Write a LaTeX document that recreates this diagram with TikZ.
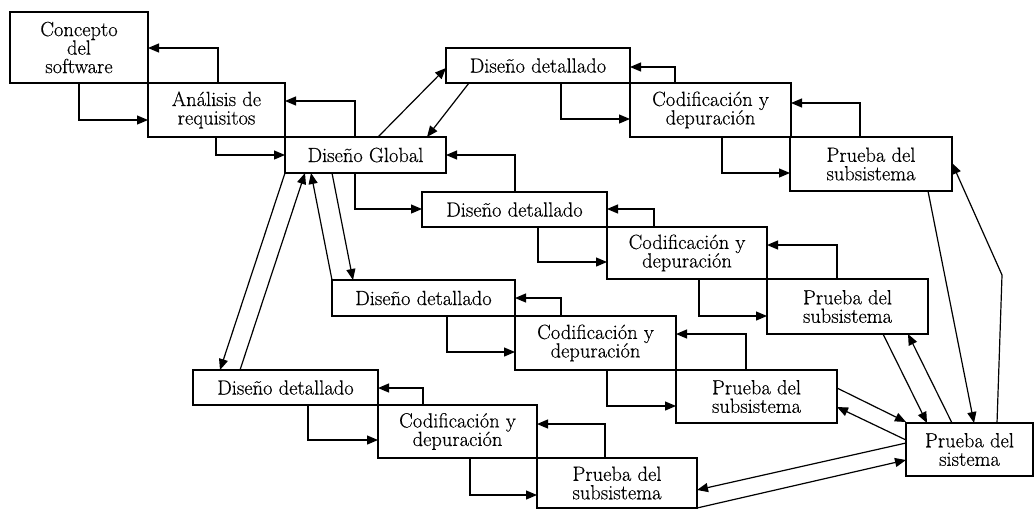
\documentclass[tikz,border=0pt]{standalone}
\usepackage{fontspec}
\setmainfont{Latin Modern Roman}[FakeBold=0.4]
\usetikzlibrary{arrows.meta}
\begin{document}
\begin{tikzpicture}[x=1pt,y=-1pt,
  box/.style={draw, line width=1.3pt, inner sep=0pt, outer sep=0pt, align=center,
    font=\fontsize{20.5}{18.5}\selectfont},
  arr/.style={line width=1.2pt, -{Triangle[length=11pt,width=9pt]}},
  ]
\useasboundingbox (0,0) rectangle (1035,509);
% boxes
\node[box, minimum width=138pt, minimum height=71pt] (concept) at (79,47.5) {Concepto\\del\\software};
\node[box, minimum width=137pt, minimum height=54pt] (analisis) at (216.5,110) {Análisis de\\requisitos};
\node[box, minimum width=161pt, minimum height=36pt] (dg) at (365.5,155) {Diseño Global};
\node[box, minimum width=184pt, minimum height=35pt] (dd1) at (538,65.5) {Diseño detallado};
\node[box, minimum width=161pt, minimum height=54pt] (cod1) at (710.5,110) {Codificación y\\depuración};
\node[box, minimum width=162pt, minimum height=54pt] (pr1) at (871,164) {Prueba del\\subsistema};
\node[box, minimum width=185pt, minimum height=35pt] (dd2) at (514.5,209.5) {Diseño detallado};
\node[box, minimum width=160pt, minimum height=52pt] (cod2) at (687,253) {Codificación y\\depuración};
\node[box, minimum width=161pt, minimum height=55pt] (pr2) at (847.5,306.5) {Prueba del\\subsistema};
\node[box, minimum width=183pt, minimum height=36pt] (dd3) at (423.5,298) {Diseño detallado};
\node[box, minimum width=161pt, minimum height=54pt] (cod3) at (595.5,343) {Codificación y\\depuración};
\node[box, minimum width=161pt, minimum height=53pt] (pr3) at (756.5,396.5) {Prueba del\\subsistema};
\node[box, minimum width=185pt, minimum height=35pt] (dd4) at (285.5,387.5) {Diseño detallado};
\node[box, minimum width=159pt, minimum height=53pt] (cod4) at (457.5,431.5) {Codificación y\\depuración};
\node[box, minimum width=160pt, minimum height=50pt] (pr4) at (617,483) {Prueba del\\subsistema};
\node[box, minimum width=127pt, minimum height=53pt] (sis) at (969.5,449.5) {Prueba del\\sistema};
% forward connectors
\draw[arr] (concept.south -| 79,0) |- (analisis.west |- 0,120);
\draw[arr] (analisis.south -| 216,0) |- (dg.west);
\draw[arr] (dd1.south -| 561,0) |- (cod1.west |- 0,119);
\draw[arr] (cod1.south -| 722,0) |- (pr1.west |- 0,173);
\draw[arr] (dg.south -| 355,0) |- (dd2.west |- 0,209);
\draw[arr] (dd2.south -| 538,0) |- (cod2.west |- 0,262);
\draw[arr] (cod2.south -| 699,0) |- (pr2.west |- 0,316);
\draw[arr] (dd3.south -| 447,0) |- (cod3.west |- 0,352);
\draw[arr] (cod3.south -| 607,0) |- (pr3.west |- 0,406);
\draw[arr] (dd4.south -| 308,0) |- (cod4.west |- 0,440);
\draw[arr] (cod4.south -| 470,0) |- (pr4.west |- 0,495);
% backward connectors
\draw[arr] (analisis.north -| 218,0) |- (concept.east |- 0,48);
\draw[arr] (dg.north -| 355,0) |- (analisis.east |- 0,101);
\draw[arr] (cod1.north -| 675,0) |- (dd1.east |- 0,67);
\draw[arr] (pr1.north -| 860,0) |- (cod1.east |- 0,103);
\draw[arr] (dd2.north -| 515,0) |- (dg.east);
\draw[arr] (cod2.north -| 654,0) |- (dd2.east |- 0,209);
\draw[arr] (pr2.north -| 837,0) |- (cod2.east |- 0,245);
\draw[arr] (cod3.north -| 561,0) |- (dd3.east |- 0,298);
\draw[arr] (pr3.north -| 746,0) |- (cod3.east |- 0,334);
\draw[arr] (cod4.north -| 423,0) |- (dd4.east |- 0,388);
\draw[arr] (pr4.north -| 605,0) |- (cod4.east |- 0,424);
% diagonals around Diseño Global
\draw[arr] (dg.north -| 378,0) -- (dd1.west |- 0,68);
\draw[arr] (dd1.south -| 469,0) -- (dg.north -| 427,0);
\draw[arr] (dg.south west) -- (dd4.north -| 220,0);
\draw[arr] (dd4.north -| 240,0) -- (dg.south -| 305,0);
\draw[arr] (dd3.north west) -- (dg.south -| 311,0);
\draw[arr] (dg.south -| 332,0) -- (dd3.north -| 353,0);
% connections to Prueba del sistema
\draw[arr] (pr3.east |- 0,388) -- (sis.west |- 0,422);
\draw[arr] (sis.west |- 0,440) -- (pr3.east |- 0,407);
\draw[arr] (sis.west |- 0,443) -- (pr4.east |- 0,490);
\draw[arr] (pr4.south east) -- (sis.west |- 0,460);
\draw[arr] (pr2.south -| 883,0) -- (sis.north -| 927,0);
\draw[arr] (sis.north -| 952,0) -- (pr2.south -| 908,0);
\draw[arr] (pr1.south -| 928,0) -- (sis.north -| 974,0);
\coordinate (bend) at (1002,275);
\draw[arr] (sis.north -| 997,0) -- (bend) -- (pr1.east |- 0,163);
\end{tikzpicture}
\end{document}
